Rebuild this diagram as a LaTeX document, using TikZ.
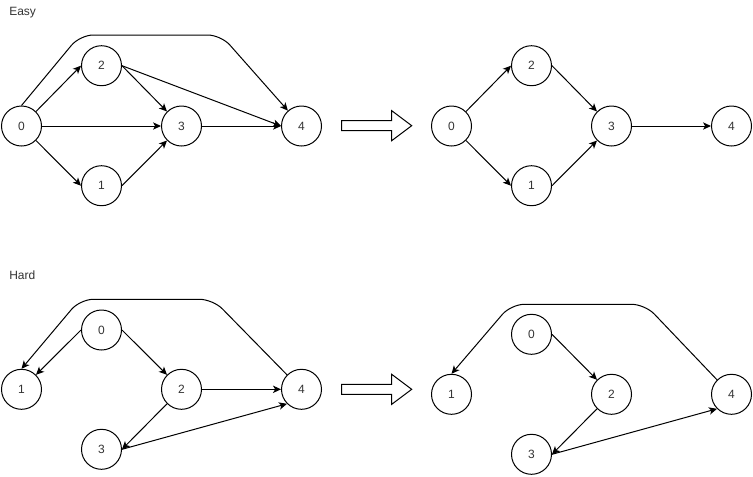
\documentclass[tikz,border=0pt]{standalone}
\usepackage{fontspec}
\setmainfont{Liberation Sans}
\usetikzlibrary{arrows.meta}
\definecolor{txt}{HTML}{333333}
\tikzset{
  vtx/.style={circle, draw=black, line width=0.75pt, minimum size=30pt, inner sep=0pt, font=\fontsize{9pt}{10pt}\selectfont, text=txt},
  arr/.style={draw=black, line width=0.75pt, -{Stealth[length=6pt, width=5.5pt, inset=1.6pt]}},
  bigarrow/.style={draw=black, line width=0.75pt, fill=white},
  lbl/.style={anchor=base west, inner sep=0pt, font=\fontsize{9pt}{10pt}\selectfont, text=txt}
}
\begin{document}
\begin{tikzpicture}[x=0.75pt, y=-0.75pt]
\useasboundingbox (0,0) rectangle (753,476);

% labels
\node[lbl] (easy) at (9,15) {Easy};
\node[lbl] (hard) at (9,279) {Hard};

% Easy, left
\node[vtx] (e0) at (21.5,126) {0};
\node[vtx] (e2) at (101.5,65.7) {2};
\node[vtx] (e1) at (101.5,185.7) {1};
\node[vtx] (e3) at (181.5,126) {3};
\node[vtx] (e4) at (301.5,126) {4};
\draw[arr, rounded corners=10pt] (e0.north) -- (80,35) -- (221,35) -- (e4);
\draw[arr] (e0.north east) -- (e2.west);
\draw[arr] (e0.east) -- (e3.west);
\draw[arr] (e0.south east) -- (e1.west);
\draw[arr] (e2.east) -- (e3.north west);
\draw[arr] (e2.east) -- (e4.west);
\draw[arr] (e1.east) -- (e3.south west);
\draw[arr] (e3.east) -- (e4.west);

% Easy, right
\node[vtx] (f0) at (451.5,126) {0};
\node[vtx] (f2) at (531.5,65.7) {2};
\node[vtx] (f1) at (531.5,185.7) {1};
\node[vtx] (f3) at (611.5,126) {3};
\node[vtx] (f4) at (731.5,126) {4};
\draw[arr] (f0.north east) -- (f2.west);
\draw[arr] (f0.south east) -- (f1.west);
\draw[arr] (f2.east) -- (f3.north west);
\draw[arr] (f1.east) -- (f3.south west);
\draw[arr] (f3.east) -- (f4.west);

% Hard, left
\node[vtx] (h0) at (101.5,330) {0};
\node[vtx] (h1) at (21.5,389.3) {1};
\node[vtx] (h2) at (181.5,389.3) {2};
\node[vtx] (h4) at (301.5,389.3) {4};
\node[vtx] (h3) at (101.5,449.3) {3};
\draw[arr, rounded corners=10pt] (h4.north west) -- (213,299.3) -- (80,299.3) -- (h1.north);
\draw[arr] (h0.west) -- (h1.north east);
\draw[arr] (h0.east) -- (h2.north west);
\draw[arr] (h2.east) -- (h4.west);
\draw[arr] (h2.south west) -- (h3.east);
\draw[arr] (h3.east) -- (h4.south west);

% Hard, right
\node[vtx] (r0) at (531.5,334.3) {0};
\node[vtx] (r1) at (451.5,394.3) {1};
\node[vtx] (r2) at (611.5,394.3) {2};
\node[vtx] (r4) at (731.5,394.3) {4};
\node[vtx] (r3) at (531.5,454.3) {3};
\draw[arr, rounded corners=10pt] (r4.north west) -- (645,304.3) -- (511,304.3) -- (r1.north);
\draw[arr] (r0.east) -- (r2.north west);
\draw[arr] (r2.south west) -- (r3.east);
\draw[arr] (r3.east) -- (r4.south west);

% big arrows
\draw[bigarrow] (341.7,120.7) -- (391.7,120.7) -- (391.7,110.7) -- (411.7,125.7) -- (391.7,140.7) -- (391.7,130.7) -- (341.7,130.7) -- cycle;
\draw[bigarrow] (341.7,384.3) -- (391.7,384.3) -- (391.7,374.3) -- (411.7,389.3) -- (391.7,404.3) -- (391.7,394.3) -- (341.7,394.3) -- cycle;
\end{tikzpicture}
\end{document}
